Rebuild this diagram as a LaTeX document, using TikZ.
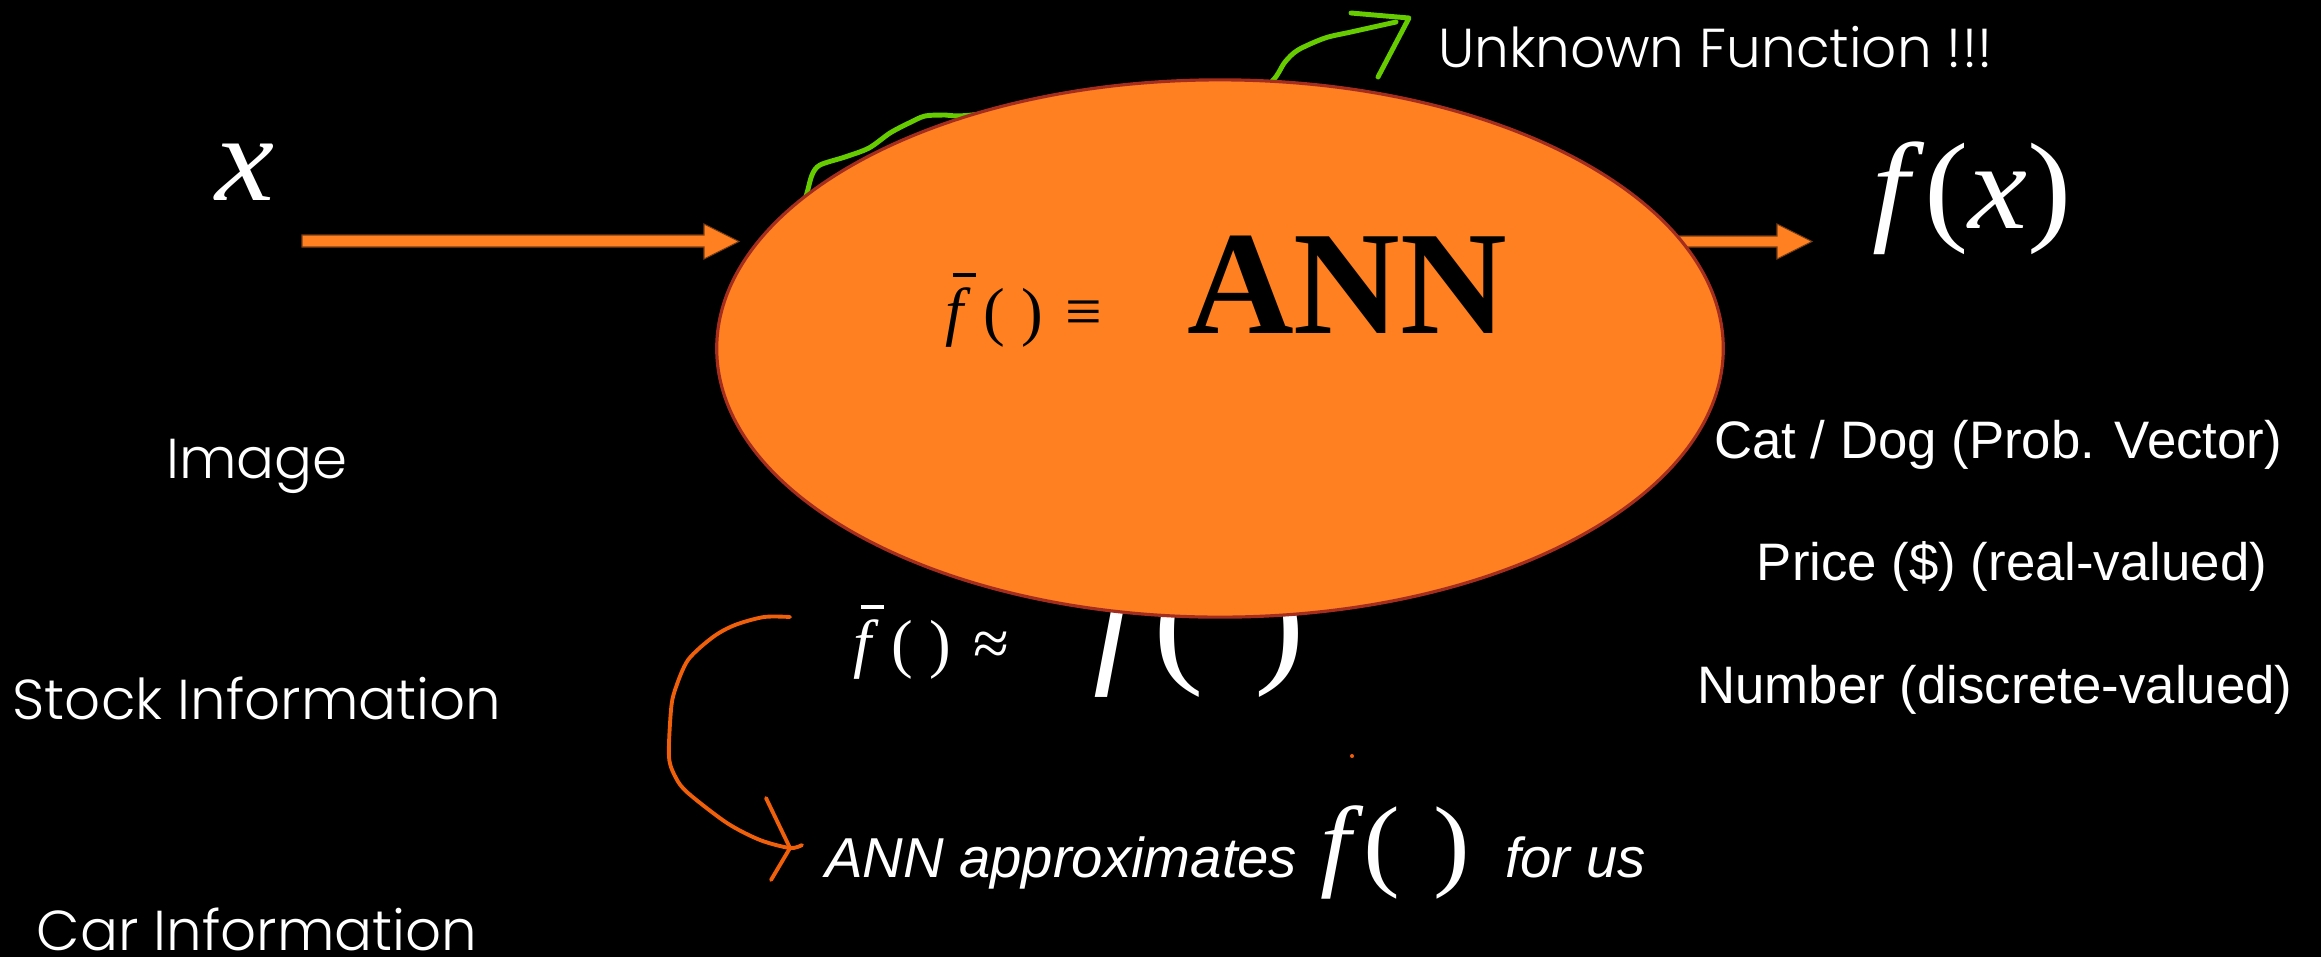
\documentclass[tikz,border=0pt]{standalone}
\usepackage{fontspec}
\usetikzlibrary{shapes.geometric}
\IfFontExistsTF{Poppins Light}
  {\newfontfamily\gothic{Poppins Light}}
  {\newfontfamily\gothic{Poppins}}
\newfontfamily\arial{Liberation Sans}
\newfontfamily\tnr{Liberation Serif}
\definecolor{annorange}{RGB}{255,128,32}
\definecolor{annrim}{RGB}{165,45,30}
\definecolor{arrowrim}{RGB}{120,60,20}
\definecolor{scribblegreen}{RGB}{102,204,0}
\definecolor{scribbleorange}{RGB}{240,95,10}
\newcommand\fsz[1]{\fontsize{#1}{#1}\selectfont}
% f with a short bar over it
\newcommand\fbarsym{\rlap{\hspace{0.12em}\raisebox{0.86em}{\rule{0.36em}{0.06em}}}\textit{f}}
% slightly widened serif maths
\newcommand\wide[1]{\scalebox{1.08}[1]{#1}}
\tikzset{
  txt/.style={inner sep=0pt, outer sep=0pt, text=white},
  gothictext/.style={txt, font=\gothic\fsz{16}},
  ariallabel/.style={txt, font=\arial\fsz{15}},
  mathbig/.style={txt, font=\tnr\fsz{35}},
  blockarrow/.style={fill=annorange, draw=arrowrim, line width=0.3pt},
  scribble/.style={line width=1.4pt, line cap=round, line join=round},
}
\begin{document}
\begin{tikzpicture}[x=0.01cm, y=-0.01cm]
  % page
  \fill[black] (0,0) rectangle (2321,957);
  \useasboundingbox (0,0) rectangle (2321,957);

  % green scribble running under the ellipse
  \draw[scribble, scribblegreen] plot[smooth] coordinates {
    (800,215) (807,193) (812,175) (820,165) (845,157) (869,148) (890,133)
    (909,123) (925,116) (945,115) (972,115) (1100,100) (1250,92) (1273,80)
    (1285,62) (1298,50) (1325,38) (1351,32) (1396,22)};
  \draw[scribble, scribblegreen] (1351,13) -- (1409,18) -- (1378,77);
  \coordinate (unkend) at (1396,22);

  % output arrow (its tail runs under the ellipse)
  \coordinate (outtail) at (1650,241.5);
  \coordinate (outtip) at (1812,241.5);
  \filldraw[blockarrow] (1650,236) -- (1777,236) -- (1777,224) -- (outtip)
    -- (1777,259) -- (1777,247) -- (1650,247) -- cycle;

  % f( ) partly covered by the ellipse
  \node[txt, font=\tnr\fsz{40}, anchor=base east] (fhidden) at (1305,667)
    {\wide{\textit{f}(\hspace{0.33em})}};

  % the network
  \node[ellipse, fill=annorange, draw=annrim, line width=0.9pt,
        minimum width=10.06cm, minimum height=5.37cm, inner sep=0pt] (ann)
        at (1220,348.5) {};
  \node[txt, text=black, font=\tnr\fsz{18.5}, anchor=base west] (fdef) at (945,333)
    {\fbarsym\hspace{0.2em}(\hspace{0.25em})\hspace{0.35em}≡};
  \node[txt, text=black, font=\tnr\bfseries\fsz{42}, anchor=base west] (annlbl)
    at (1187,333) {ANN};

  % input arrow
  \coordinate (intail) at (302,241.5);
  \coordinate (intip) at (739,241.5);
  \filldraw[blockarrow] (302,235) -- (704,235) -- (704,224) -- (intip)
    -- (704,259) -- (704,247) -- (302,247) -- cycle;

  % input / output symbols
  \node[mathbig, anchor=base west] (xin) at (215,200) {\wide{\textit{x}}};
  \node[mathbig, anchor=base west] (fx) at (1872,228) {\wide{\textit{f}(\textit{x})}};

  \node[gothictext, font=\gothic\fsz{15.6}, anchor=base west] (unknown) at (1438,67)
    {Unknown Function !!!};

  % inputs
  \node[gothictext, anchor=base] (img) at (257,478) {Image};
  \node[gothictext, anchor=base] (stock) at (257,719) {Stock Information};
  \node[gothictext, text depth=0pt, anchor=base] (car) at (257,950) {Car Information};

  % outputs
  \node[ariallabel, anchor=base] (cat) at (1998,458) {Cat / Dog (Prob. Vector)};
  \node[ariallabel, anchor=base] (price) at (2012,580) {Price (\$) (real-valued)};
  \node[ariallabel, anchor=base] (number) at (1995,703) {Number (discrete-valued)};

  % approximation
  \node[txt, font=\tnr\fsz{18.5}, anchor=base west] (fapprox) at (853,665)
    {\fbarsym\hspace{0.2em}(\hspace{0.25em})\hspace{0.35em}≈};

  % hand-drawn hook arrow
  \draw[scribble, scribbleorange, line width=1.1pt] plot[smooth] coordinates {
    (790,617) (764,617) (735,625) (713,637) (688,660) (675,690) (671,710)
    (669,757) (676,778) (688,793) (727,823) (760,840) (790,848) (802,845)};
  \draw[scribble, scribbleorange, line width=1.1pt] (766,798) -- (790,848) -- (771,880);
  \fill[scribbleorange] (1352,756) circle[radius=2];

  \node[txt, font=\arial\itshape\fsz{16}, anchor=base west] (approx) at (825,877)
    {ANN approximates};
  \node[txt, font=\tnr\fsz{29}, anchor=base west] (fsmall) at (1320,877)
    {\wide{\textit{f}(\hspace{0.3em})}};
  \node[txt, font=\arial\itshape\fsz{16}, anchor=base west] (forus) at (1505,877)
    {for us};
\end{tikzpicture}
\end{document}
